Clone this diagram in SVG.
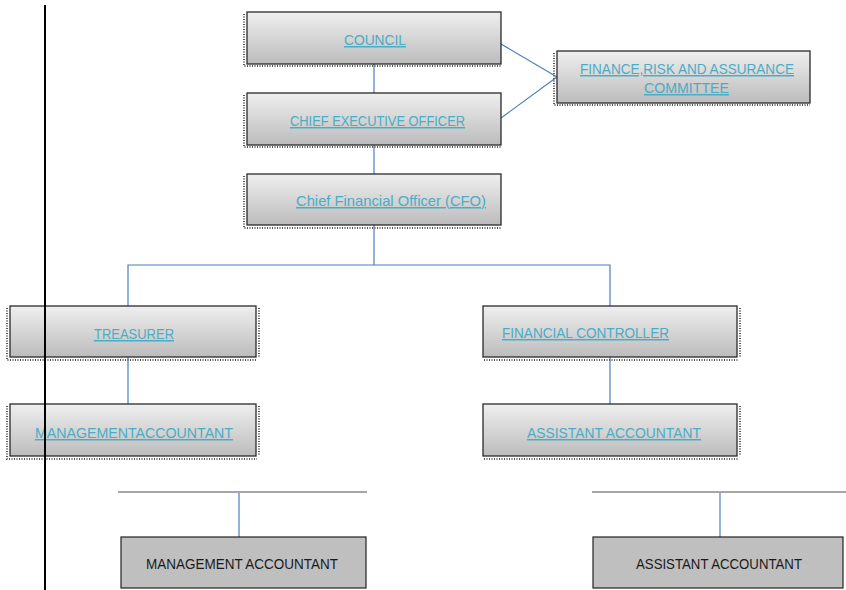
<svg xmlns="http://www.w3.org/2000/svg" width="846" height="590" viewBox="0 0 846 590">
<defs>
<linearGradient id="g" x1="0" y1="0" x2="0" y2="1">
<stop offset="0" stop-color="#efefef"/>
<stop offset="1" stop-color="#bcbcbc"/>
</linearGradient>
</defs>
<style>
.box{fill:url(#g);stroke:#2a2a2a;stroke-width:1.3}
.sh{stroke:#555;stroke-width:2;stroke-dasharray:1 1.5;fill:none}
.lbl{font-family:"Liberation Sans",Arial,sans-serif;font-size:15px;fill:#4bacc6;text-decoration:underline}
.gbox{fill:#bfbfbf;stroke:#222;stroke-width:1.2}
.glbl{font-family:"Liberation Sans",Arial,sans-serif;font-size:14.5px;fill:#1a1a1a}
.con{stroke:#4a7ebb;stroke-width:1.2;fill:none}
.bar{stroke:#a6a6a6;stroke-width:2;fill:none}
</style>
<rect width="846" height="590" fill="#fff"/>
<g id="connectors">
<line class="con" x1="374" y1="64" x2="374" y2="93"/>
<line class="con" x1="374" y1="145" x2="374" y2="174"/>
<line class="con" x1="374" y1="225" x2="374" y2="265"/>
<polyline class="con" points="128,306 128,265 610,265 610,306"/>
<line class="con" x1="128" y1="357" x2="128" y2="404"/>
<line class="con" x1="610" y1="357" x2="610" y2="404"/>
<line class="con" x1="501" y1="44" x2="557" y2="77"/>
<line class="con" x1="501" y1="118" x2="557" y2="77"/>
<line class="bar" x1="118" y1="492" x2="367" y2="492"/>
<line class="bar" x1="592" y1="492" x2="846" y2="492"/>
<line class="con" x1="239" y1="493" x2="239" y2="537"/>
<line class="con" x1="720" y1="493" x2="720" y2="537"/>
</g>
<g id="council">
<path class="sh" d="M244,14 V66 H501"/>
<rect class="box" x="247" y="12" width="254" height="52"/>
<text class="lbl" x="344" y="45" textLength="62" lengthAdjust="spacingAndGlyphs">COUNCIL</text>
</g>
<g id="ceo">
<path class="sh" d="M244,95 V147 H501"/>
<rect class="box" x="247" y="93" width="254" height="52"/>
<text class="lbl" x="290" y="126" textLength="175" lengthAdjust="spacingAndGlyphs">CHIEF EXECUTIVE OFFICER</text>
</g>
<g id="frac">
<path class="sh" d="M554,53 V105 H810"/>
<rect class="box" x="557" y="51" width="253" height="52"/>
<text class="lbl" x="580" y="74" textLength="214" lengthAdjust="spacingAndGlyphs">FINANCE,RISK AND ASSURANCE</text>
<text class="lbl" x="644" y="93" textLength="85" lengthAdjust="spacingAndGlyphs">COMMITTEE</text>
</g>
<g id="cfo">
<path class="sh" d="M244,176 V228 H501"/>
<rect class="box" x="247" y="174" width="254" height="51"/>
<text class="lbl" x="296" y="206" textLength="190" lengthAdjust="spacingAndGlyphs">Chief Financial Officer (CFO)</text>
</g>
<g id="treasurer">
<path class="sh" d="M7,308 V360 H257 M259,308 V357"/>
<rect class="box" x="10" y="306" width="246" height="51"/>
<text class="lbl" x="94" y="339" textLength="80" lengthAdjust="spacingAndGlyphs">TREASURER</text>
</g>
<g id="fc">
<path class="sh" d="M484,360 H738 M740,308 V357"/>
<rect class="box" x="483" y="306" width="254" height="51"/>
<text class="lbl" x="502" y="338" textLength="167" lengthAdjust="spacingAndGlyphs">FINANCIAL CONTROLLER</text>
</g>
<g id="ma">
<path class="sh" d="M7,406 V459 H257 M259,406 V456"/>
<rect class="box" x="10" y="404" width="246" height="52"/>
<text class="lbl" x="35" y="438" textLength="198" lengthAdjust="spacingAndGlyphs">MANAGEMENTACCOUNTANT</text>
</g>
<g id="aa">
<path class="sh" d="M484,459 H738 M740,406 V456"/>
<rect class="box" x="483" y="404" width="254" height="52"/>
<text class="lbl" x="527" y="438" textLength="174" lengthAdjust="spacingAndGlyphs">ASSISTANT ACCOUNTANT</text>
</g>
<g id="ma2">
<rect class="gbox" x="121" y="537" width="245" height="51"/>
<text class="glbl" x="146" y="569" textLength="192" lengthAdjust="spacingAndGlyphs">MANAGEMENT ACCOUNTANT</text>
</g>
<g id="aa2">
<rect class="gbox" x="593" y="537" width="250" height="51"/>
<text class="glbl" x="636" y="569" textLength="166" lengthAdjust="spacingAndGlyphs">ASSISTANT ACCOUNTANT</text>
</g>
<line x1="45" y1="5" x2="45" y2="590" stroke="#000" stroke-width="2"/>
</svg>
